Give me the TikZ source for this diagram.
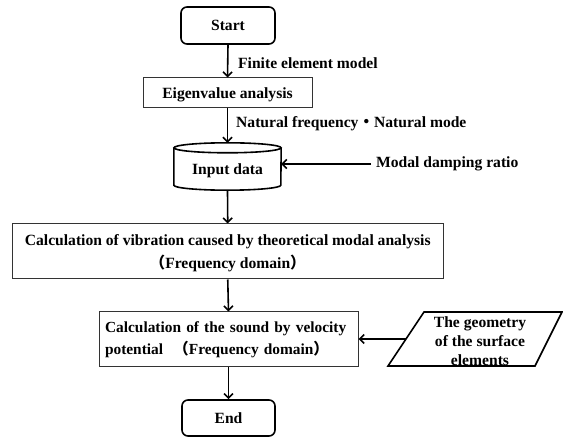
\documentclass[tikz,border=0pt]{standalone}
\usepackage{fontspec}
\setmainfont{Liberation Serif}
\newfontfamily\cjk{Noto Sans CJK JP}
\usetikzlibrary{arrows.meta}
\begin{document}
\begin{tikzpicture}[x=1pt,y=-1pt,
  base/.style={font=\bfseries\fontsize{15.6}{19}\selectfont, inner sep=0pt, align=center},
  term/.style={base, draw, line width=1.6pt, rounded corners=6pt},
  proc/.style={base, draw=black!80, line width=1pt},
  cyl/.style={line width=1.6pt},
  arr/.style={line width=1.6pt, -{Straight Barb[length=4.5pt,width=9pt,line width=1.6pt]}},
  lbl/.style={base, anchor=west, inner sep=3pt}]
\useasboundingbox (0,0) rectangle (563,438);
% nodes
\node[term, minimum width=94pt, minimum height=37pt] (start) at (228,25.5) {Start};
\node[proc, minimum width=169pt, minimum height=30pt] (eig) at (227.5,93) {\raisebox{-2pt}[\height][\depth]{Eigenvalue analysis}};
\node[base, minimum width=107pt, minimum height=47pt] (inp) at (227.5,166.5) {};
\node[base] (inptxt) at (227.5,171) {Input data};
\draw[cyl] ([yshift=-5pt]inp.north west) -- ([yshift=5pt]inp.south west)
  arc[start angle=180,end angle=360,x radius=53.5pt,y radius=5pt] -- ([yshift=-5pt]inp.north east);
\draw[cyl] ([yshift=-5pt]inp.north) ellipse[x radius=53.5pt,y radius=5pt];
\node[proc, minimum width=430.5pt, minimum height=55pt, font=\bfseries\fontsize{15.6}{23}\selectfont] (calc) at (227.75,251.5)
  {\raisebox{-2pt}[\height][\depth]{Calculation of vibration caused by theoretical modal analysis}\\\raisebox{-2pt}[\height][\depth]{{\cjk （}Frequency domain{\cjk ）}}};
\node[proc, minimum width=259pt, minimum height=55pt, text width=251pt, inner xsep=4pt, align=left, font=\bfseries\fontsize{15.4}{22}\selectfont] (snd) at (228.5,339.5)
  {\hspace{2pt}Calculation of the sound by velocity\\\hspace{2pt}potential \ {\cjk （}Frequency domain{\cjk ）}};
\node[term, minimum width=93pt, minimum height=36pt] (end) at (228.5,418) {End};
% parallelogram
\draw[line width=1.6pt] (388,366) -- (424,312) -- (562,312) -- (535,366) -- cycle;
\coordinate (pl) at (406,339);
\node[base] (geo) at (480,341) {The geometry\\of the surface\\elements};
% labels
\node[lbl] (fem) at (235,63) {Finite element model};
\node[lbl] (nat) at (233,124) {Natural frequency{\cjk ・}Natural mode};
\node[lbl, inner xsep=5pt] (mdr) at (371,164) {Modal damping ratio};
% connectors
\draw[arr] (start.south) -- (eig.north);
\draw[arr] (eig.south) -- (inp.north);
\draw[arr] (inp.south) -- (calc.north);
\draw[arr] (calc.south) -- (snd.north);
\draw[arr] (snd.south) -- (end.north);
\draw[arr] (mdr.west) -- (mdr.west -| inp.east);
\draw[arr] (pl) -- (pl -| snd.east);
\end{tikzpicture}
\end{document}
